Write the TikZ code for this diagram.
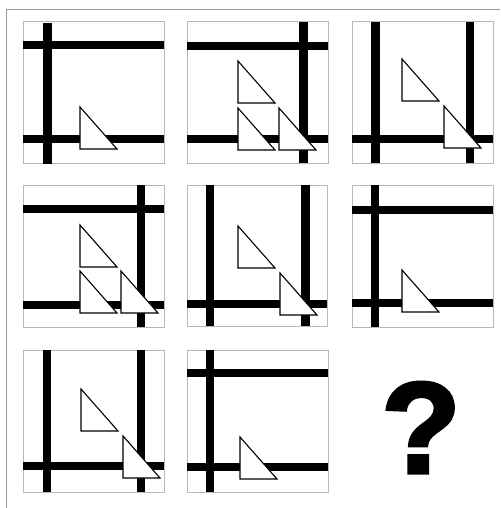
\documentclass[tikz,border=0pt]{standalone}
\usepackage{fontspec}
\newfontfamily\qfont[FakeBold=2.5]{Liberation Sans Bold}
\tikzset{
  frameline/.style={draw=black!40, line width=1pt},
  panel/.style={draw=black!28, line width=1pt, fill=white},
  bar/.style={fill=black},
  tri/.style={draw=black, fill=white, line width=1.1pt, line join=miter},
}
\newcommand{\mytri}[2]{\draw[tri] (#1,#2) -- (#1,#2-42) -- (#1+37,#2) -- cycle;}
\newcommand{\myvbar}[3]{\fill[bar] (#1-4.2,#2) rectangle (#1+4.2,#3);}
\newcommand{\myhbar}[3]{\fill[bar] (#2,#1-4) rectangle (#3,#1+4);}
\begin{document}
\begin{tikzpicture}[x=1pt,y=-1pt]
\useasboundingbox (0,0) rectangle (500,508);
\fill[white] (0,0) rectangle (500,508);
\draw[frameline] (500,10) -- (6,10) -- (6,508);
% panel 1
\draw[panel] (23,22) rectangle (164,163);
\myvbar{47.5}{23}{164} \myhbar{45.5}{23}{164} \myhbar{139}{23}{164}
\mytri{80}{149}
% panel 2
\draw[panel] (187,22) rectangle (328,163);
\myvbar{303.5}{22}{163} \myhbar{46.5}{187}{328} \myhbar{139}{187}{328}
\mytri{238}{103} \mytri{238}{150} \mytri{279}{150}
% panel 3
\draw[panel] (352,22) rectangle (493,163);
\myvbar{375.5}{22}{163} \myvbar{470}{22}{163} \myhbar{139}{352}{493}
\mytri{402}{101} \mytri{444}{148}
% panel 4
\draw[panel] (23,185) rectangle (164,327);
\myvbar{141}{185}{327} \myhbar{209}{23}{164} \myhbar{304.5}{23}{164}
\mytri{80}{267} \mytri{80}{313} \mytri{121}{313}
% panel 5
\draw[panel] (187,185) rectangle (327,326);
\myvbar{210}{185}{326} \myvbar{305.5}{185}{326} \myhbar{303.5}{187}{327}
\mytri{238}{268} \mytri{280}{315}
% panel 6
\draw[panel] (352,185) rectangle (493,327);
\myvbar{375}{185}{327} \myhbar{209.5}{352}{493} \myhbar{303}{352}{493}
\mytri{402}{312}
% panel 7
\draw[panel] (23,350) rectangle (164,492);
\myvbar{47}{350}{492} \myvbar{141}{350}{492} \myhbar{466}{23}{164}
\mytri{81}{431} \mytri{123}{478}
% panel 8
\draw[panel] (187,350) rectangle (328,492);
\myvbar{210}{350}{492} \myhbar{373}{187}{328} \myhbar{466.5}{187}{328}
\mytri{240}{479}
% question mark
\node[inner sep=0pt, font=\qfont\fontsize{130}{130}\selectfont] (q) at (421,427.5) {?};
\end{tikzpicture}
\end{document}
